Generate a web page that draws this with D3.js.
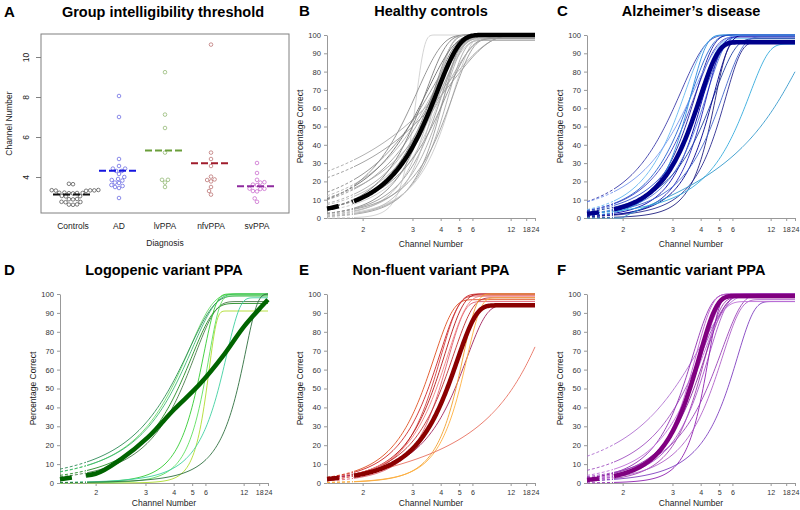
<!DOCTYPE html>
<html><head><meta charset="utf-8">
<script src="https://cdn.jsdelivr.net/npm/d3@7"></script>
<style>body{margin:0;background:#fff}svg{font-family:"Liberation Sans",Arial,sans-serif}</style>
</head><body><svg id="c" width="800" height="510"></svg>
<script>
// ---------- Panel A data ----------
const groups = ["Controls","AD","lvPPA","nfvPPA","svPPA"];
const controlsThr = [3.66,3.64,3.34,3.33,3.32,3.35,3.31,3.33,3.2,3.19,3.21,3.18,3.2,3.22,3.05,3.03,3.04,2.9,2.88,2.89,2.75,2.74,2.76,2.62,2.61,2.63];
const adThr = [8.05,7.0,4.9,4.55,4.42,4.42,4.3,4.3,4.15,4.0,3.9,3.85,3.82,3.72,3.7,3.6,3.55,3.5,3.45,2.95];
const lvThr = [9.24,7.12,6.45,5.22,3.86,3.86,3.72,3.5];
const nfvThr = [10.62,5.22,4.9,4.55,4.02,3.88,3.85,3.78,3.5,3.3,3.12];
const svThr = [4.7,4.2,3.86,3.74,3.72,3.62,3.6,3.42,3.41,3.4,3.3,3.28,2.93,2.76];
const groupMeans = [3.12,4.31,5.33,4.69,3.54];
const yTicksA = [4,6,8,10];

// ---------- Psychometric panels ----------
const xTicks = [2,3,4,5,6,12,18,24];
const yTicks = [0,10,20,30,40,50,60,70,80,90,100];
// each fit: [threshold (channels at half of upper level), slope, upper level %, onset channel]
const hcFits = [[3.0,12,100,0],[2.8,1.5,100,0],[3.0,1.6,100,0],[2.9,2.5,100,0],[3.0,2.6,99,0],[3.1,2.8,100,0],[3.3,3.0,98,0],[3.4,3.2,100,0],[3.2,3.6,100,0],[3.5,3.5,99,0],[3.6,4.0,100,0],[3.3,4.5,100,0],[3.7,4.2,98,0],[3.4,5.0,100,0],[3.8,5.0,100,0],[3.9,4.5,97,0],[4.1,4.0,100,0],[3.6,3.0,98,0],[3.2,3.0,99,0],[4.0,3.5,98,0],[3.0,4.0,100,0],[2.7,3.5,100,0],[3.5,5.5,100,0],[2.9,3.0,100,0],[3.3,2.4,99,0]];
const hcGroup = [3.31,3.5,100,0];
const adFits = [[2.8,3.5,100,0],[3.0,4.2,100,0],[3.2,4.0,100,0],[3.3,3.8,99,0],[3.4,4.5,100,0],[3.5,4.2,98,0],[3.6,3.5,100,0],[3.7,4.8,97,0],[3.8,4.0,100,0],[3.9,5.0,99,0],[4.0,3.2,98,0],[4.2,4.5,100,0],[4.4,6.0,97,0],[4.5,3.2,99,0],[3.1,3.0,100,0],[3.3,5.5,100,0],[4.8,4.0,96,0],[6.2,2.4,95,0],[9.7,0.8,100,2.0]];
const adGroup = [3.52,4.2,96,0];
const lvFits = [[3.9,2.7,100,0],[4.0,2.6,100,0],[4.1,2.9,95,0],[3.8,2.5,99,0],[4.3,3.0,96,0],[6.0,8.0,91,0],[5.3,5.0,100,0],[5.8,5.5,99,0],[7.3,3.5,98,0],[10.5,3.0,100,0]];
// group curve for lvPPA read as points [channel, % correct]
const lvGroupPts = [[1.58,2],[1.87,4],[2,4.9],[2.42,12.5],[3.06,24],[4.03,39],[5.63,53],[7.9,67],[12.2,83],[18,92],[24,97]];
const nfvFits = [[3.3,4.2,97,0],[3.5,4.0,100,0],[3.6,4.5,99,0],[3.7,4.0,100,0],[3.9,4.5,96,0],[4.0,3.5,98,0],[3.8,3.8,99,0],[4.6,3.0,94,0],[4.8,5.0,100,0],[5.0,4.6,98,0],[12.5,0.85,100,1.5]];
const nfvGroup = [4.2,3.5,94,0];
const svFits = [[3.05,2.3,100,0],[3.4,3.0,100,0],[3.3,4.5,100,0],[3.6,4.2,100,0],[3.8,4.8,98,0],[3.45,5.0,100,0],[3.7,3.8,99,0],[3.9,4.0,100,0],[4.1,7.0,99,0],[5.5,3.3,96,0],[4.5,3.5,97,0],[4.3,3.0,100,0],[3.5,3.5,96,0]];
const svGroup = [3.55,4.6,99,0];

// ---------- styles ----------
const hcColors = ["#cfcfcf","#a8a8a8","#9a9a9a","#8c8c8c","#b4b4b4","#9c9c9c","#bdbdbd","#acacac","#7c7c7c","#cacaca","#9a9a9a","#8a8a8a","#adadad","#bcbcbc","#9c9c9c","#ababab","#c8c8c8","#8c8c8c","#acacac","#9a9a9a","#7a7a7a","#8a8a8a","#bcbcbc","#6e6e6e","#a9a9a9"];
const adColors = ["#3a3aa8","#66b8f0","#2060d0","#4040c0","#1a1aa0","#70c0f0","#3355cc","#0000aa","#5577dd","#2222bb","#1f3fa0","#000090","#202080","#4466cc","#7799ee","#3090e0","#2a2a90","#33aadd","#3399cc"];
const lvColors = ["#66dd66","#3cb371","#228b22","#2e8b57","#4a7a4a","#b0dc30","#33cc33","#5ee05e","#40d0a0","#2f6f3f"];
const nfvColors = ["#e05020","#cc2222","#d04040","#b81818","#e06070","#c03030","#f08080","#a0205a","#f0a030","#ffb040","#e87060"];
const svColors = ["#b070d0","#a050c0","#9030b0","#b040c0","#a040b0","#c060d0","#8a2aa0","#a855c8","#9020b0","#8040c0","#b060c8","#9a40b8","#c070d8"];

const svg = d3.select("#c");
const FONT = "Liberation Sans, Arial, sans-serif";

function title(x, y, txt) {
  svg.append("text").attr("x", x).attr("y", y).attr("text-anchor","middle")
    .attr("font-size", 14.5).attr("font-weight","bold").text(txt);
}
function letter(x, y, txt) {
  svg.append("text").attr("x", x).attr("y", y).attr("font-size", 15).attr("font-weight","bold").text(txt);
}

// ---------- Panel A ----------
(function(){
  const L=41,R=289,T=34,B=213;
  const x = d3.scalePoint().domain(groups).range([73,257]);
  const y = d3.scaleLinear().domain([2.2,11.15]).range([B,T]);
  const g = svg.append("g");
  g.append("rect").attr("x",L).attr("y",T).attr("width",R-L).attr("height",B-T)
    .attr("fill","none").attr("stroke","#808080").attr("stroke-width",1);
  const ax = g.append("g").attr("transform",`translate(${L},0)`)
    .call(d3.axisLeft(y).tickValues(yTicksA).tickSize(5).tickSizeOuter(0));
  ax.select(".domain").remove();
  ax.selectAll("line").attr("stroke","#808080");
  ax.selectAll(".tick text").attr("font-size",8.5).attr("fill","#222").attr("font-family",FONT)
    .attr("text-anchor","middle").attr("transform","translate(-15,0) rotate(-90)").attr("x",0).attr("y",0).attr("dy","0.32em");
  g.append("text").attr("transform",`translate(12,${(T+B)/2}) rotate(-90)`).attr("text-anchor","middle")
    .attr("font-size",8.5).attr("fill","#222").text("Channel Number");
  groups.forEach(gr => g.append("text").attr("x",x(gr)).attr("y",229).attr("text-anchor","middle")
    .attr("font-size",8.5).attr("fill","#222").text(gr));
  g.append("text").attr("x",(L+R)/2).attr("y",246).attr("text-anchor","middle").attr("font-size",8.5).attr("fill","#222").text("Diagnosis");
  const sets = [controlsThr, adThr, lvThr, nfvThr, svThr];
  const ptCol = ["#444","#5a5ae0","#86b064","#b46464","#c45cc8"];
  const meanCol = ["#111","#1515e0","#6a9e3a","#a01c2c","#8e2a9e"];
  const d = 4.1;
  sets.forEach((vals,i)=>{
    const cx = x(groups[i]);
    const placed = [];
    vals.slice().sort((a,b)=>a-b).forEach(v=>{
      const py = y(v);
      const cand=[0];
      placed.forEach(p=>{ const dy=Math.abs(p.y-py); if(dy<d){ const dx=Math.sqrt(d*d-dy*dy); cand.push(p.dx+dx,p.dx-dx);} });
      cand.sort((a,b)=>Math.abs(a)-Math.abs(b)||a-b);
      let off=0;
      for(const c of cand){ if(placed.every(p=>(p.dx-c)**2+(p.y-py)**2>=d*d-1e-6)){off=c;break;} }
      placed.push({dx:off,y:py});
    });
    g.selectAll(null).data(placed).enter().append("circle")
      .attr("cx",p=>cx+p.dx).attr("cy",p=>p.y).attr("r",1.8)
      .attr("fill","none").attr("stroke",ptCol[i]).attr("stroke-width",0.7);
    g.append("line").attr("x1",cx-20).attr("x2",cx+20).attr("y1",y(groupMeans[i])).attr("y2",y(groupMeans[i]))
      .attr("stroke",meanCol[i]).attr("stroke-width",2).attr("stroke-dasharray","7,3");
  });
  letter(4,17,"A");
  title(163,17,"Group intelligibility threshold");
})();

// ---------- Psychometric panels ----------
const DASH_END = 1.87;
function weib(f){
  const [t,k,hi,n0]=f;
  const lam=(t-n0)/Math.pow(Math.LN2,1/k);
  return n => n<=n0 ? 0 : hi*(1-Math.exp(-Math.pow((n-n0)/lam,k)));
}
function curvePanel(o){
  const x = d3.scalePow().exponent(-0.65).domain([1.58,24]).range([o.x0,o.x1]);
  const y = d3.scaleLinear().domain([0,100]).range([o.y0,o.y1]);
  const g = svg.append("g");
  const ay = g.append("g").attr("transform",`translate(${o.x0},0)`)
    .call(d3.axisLeft(y).tickValues(yTicks).tickSize(3).tickSizeOuter(0).tickPadding(3));
  const axb = g.append("g").attr("transform",`translate(0,${o.y0})`)
    .call(d3.axisBottom(x).tickValues(xTicks).tickFormat(d3.format("d")).tickSize(3).tickSizeOuter(0).tickPadding(o.tp));
  [ay,axb].forEach(a=>{ a.select(".domain").attr("stroke","#999"); a.selectAll("line").attr("stroke","#999");
    a.selectAll("text").attr("font-size",7.6).attr("fill","#333").attr("font-family",FONT); });
  axb.selectAll("text").attr("font-size",7.1);
  g.append("text").attr("transform",`translate(${o.x0-24},${(o.y0+o.y1)/2}) rotate(-90)`).attr("text-anchor","middle")
    .attr("font-size",8.5).attr("fill","#222").text("Percentage Correct");
  g.append("text").attr("x",(o.x0+o.x1)/2).attr("y",o.y0+o.tt).attr("text-anchor","middle")
    .attr("font-size",8.5).attr("fill","#222").text("Channel Number");
  const pxs = d3.range(o.x0, o.x1+0.01, 1).map(px=>x.invert(px));
  const line = d3.line().x(d=>x(d[0])).y(d=>y(d[1]));
  function draw(fn, col, w, dashA){
    const pts = pxs.map(n=>[n,fn(n)]);
    const lo = pts.filter(p=>p[0]<=DASH_END+0.01), hi = pts.filter(p=>p[0]>=DASH_END);
    g.append("path").attr("d",line(lo)).attr("fill","none").attr("stroke",col).attr("stroke-width",w).attr("stroke-dasharray",dashA);
    g.append("path").attr("d",line(hi)).attr("fill","none").attr("stroke",col).attr("stroke-width",w);
  }
  o.fits.forEach((f,i)=>draw(weib(f), o.colors[i], 0.9, "3,2"));
  if (o.group) draw(weib(o.group), o.gcol, 4.5, "12,14");
  if (o.groupPts) {
    const lo=o.groupPts.filter(p=>p[0]<=DASH_END), hi=o.groupPts.filter(p=>p[0]>=DASH_END);
    const cl = d3.line().x(d=>x(d[0])).y(d=>y(d[1])).curve(d3.curveMonotoneX);
    g.append("path").attr("d",cl(lo)).attr("fill","none").attr("stroke",o.gcol).attr("stroke-width",4.5).attr("stroke-dasharray","12,14");
    g.append("path").attr("d",cl(hi)).attr("fill","none").attr("stroke",o.gcol).attr("stroke-width",4.5);
  }
  letter(o.lx, o.ly, o.letter);
  title((o.x0+o.x1)/2, o.ly, o.title);
}
curvePanel({x0:327,x1:535,y0:218,y1:35,tp:6,tt:29,fits:hcFits,colors:hcColors,group:hcGroup,gcol:"#000",letter:"B",lx:299,ly:16,title:"Healthy controls"});
curvePanel({x0:587,x1:795,y0:218,y1:35,tp:6,tt:29,fits:adFits,colors:adColors,group:adGroup,gcol:"#00008b",letter:"C",lx:557,ly:16,title:"Alzheimer\u2019s disease"});
curvePanel({x0:60,x1:268,y0:483,y1:294,tp:4,tt:23,fits:lvFits,colors:lvColors,groupPts:lvGroupPts,gcol:"#006400",letter:"D",lx:4,ly:275,title:"Logopenic variant PPA"});
curvePanel({x0:327,x1:535,y0:483,y1:294,tp:4,tt:23,fits:nfvFits,colors:nfvColors,group:nfvGroup,gcol:"#8b0000",letter:"E",lx:299,ly:275,title:"Non-fluent variant PPA"});
curvePanel({x0:587,x1:795,y0:483,y1:294,tp:4,tt:23,fits:svFits,colors:svColors,group:svGroup,gcol:"#800080",letter:"F",lx:557,ly:275,title:"Semantic variant PPA"});
</script></body></html>
